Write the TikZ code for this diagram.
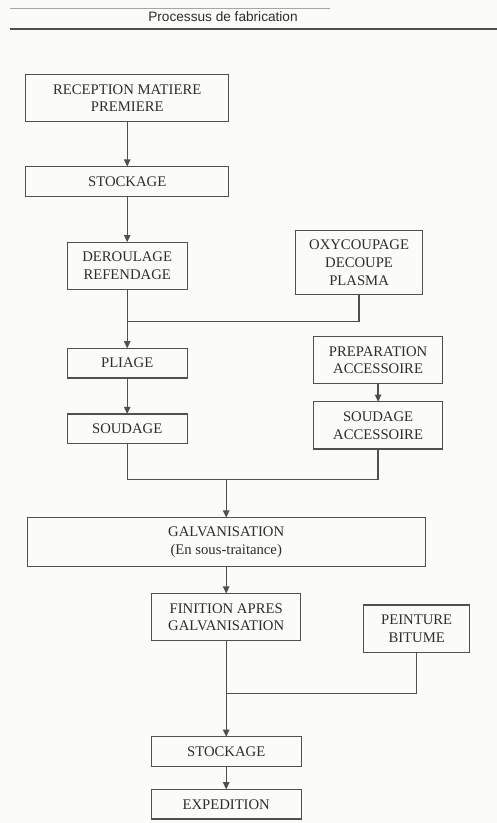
\documentclass[tikz,border=0pt]{standalone}
\usepackage{fontspec}
\setmainfont{Liberation Serif}
\newfontfamily\titrefont{Liberation Sans}
\usepackage{tikz}
\usetikzlibrary{positioning,arrows.meta}
\usepackage{xcolor}
\definecolor{fond}{RGB}{251,251,247}
\definecolor{trait}{RGB}{80,80,80}
\definecolor{texte}{RGB}{45,45,45}

\begin{document}
\begin{tikzpicture}[
node distance=1cm,
box/.style={draw=trait, line width=0.9pt, align=center, inner sep=2pt, outer sep=0pt, minimum height=0.74cm, text=texte, font=\fontsize{10.45pt}{12.6pt}\selectfont},
haut/.style={minimum height=1.18cm},
>={Triangle[length=1.8mm,width=1.6mm]}
]

\path[use as bounding box, fill=fond] (0,0) rectangle (12.425,-20.575);

%-------------------------
% En-tete
%-------------------------

\node (titre) at (5.575,-0.425) [text=texte, font=\titrefont\fontsize{9.7pt}{11pt}\selectfont] {Processus de fabrication};
\draw[gray!70, line width=0.5pt] (0.25,-0.2) -- (8.25,-0.2);
\draw[trait, line width=0.9pt] (0.25,-0.725) -- (12.425,-0.725);

%-------------------------
% Noeuds
%-------------------------

\node (reception) [box, haut, minimum width=5.075cm] at (3.18,-2.45) {RECEPTION MATIERE\\PREMIERE};
\node (stockA) [box, minimum width=5.075cm, below=1.125cm of reception] {STOCKAGE};

\node (deroulage) [box, haut, minimum width=3cm, below=1.15cm of stockA] {DEROULAGE\\REFENDAGE};
\node (oxy) [box, minimum width=3.175cm, minimum height=1.6cm, right=2.71cm of deroulage, yshift=0.075cm] {OXYCOUPAGE\\DECOUPE\\PLASMA};

\node (pliage) [box, minimum width=3cm, below=1.475cm of deroulage] {PLIAGE};
\node (soudage) [box, minimum width=3cm, below=0.9cm of pliage] {SOUDAGE};

\node (prep) [box, haut, minimum width=3.225cm, right=3.16cm of pliage, yshift=0.075cm] {PREPARATION\\ACCESSOIRE};
\node (soudacc) [box, haut, minimum width=3.225cm, below=0.45cm of prep] {SOUDAGE\\ACCESSOIRE};

\node (galva) [box, minimum width=9.95cm, minimum height=1.225cm, below=1.85cm of soudage, xshift=2.475cm] {GALVANISATION\\(En sous-traitance)};

\node (finition) [box, haut, minimum width=3.725cm, below=0.675cm of galva] {FINITION APRES\\GALVANISATION};
\node (peinture) [box, haut, minimum width=2.65cm, right=1.575cm of finition, yshift=-0.285cm] {PEINTURE\\BITUME};

\node (stockB) [box, minimum width=3.75cm, below=2.4cm of finition] {STOCKAGE};
\node (expedition) [box, minimum width=3.75cm, below=0.575cm of stockB] {EXPEDITION};

% points de jonction
\coordinate [below=0.8cm of deroulage] (j1);
\coordinate [above=0.95cm of galva] (j2);
\coordinate [above=1.075cm of stockB] (j3);

%-------------------------
% Fleches
%-------------------------

\begin{scope}[draw=trait, line width=0.9pt]
\draw[->] (reception) -- (stockA);
\draw[->] (stockA) -- (deroulage);

\draw[->] (deroulage) -- (pliage);
\draw (oxy) |- (j1);

\draw[->] (pliage) -- (soudage);
\draw[->] (prep) -- (soudacc);

\draw (soudage) |- (j2) -| (soudacc);
\draw[->] (j2) -- (galva);

\draw[->] (galva) -- (finition);

\draw[->] (finition) -- (stockB);
\draw (peinture) |- (j3);

\draw[->] (stockB) -- (expedition);
\end{scope}

\end{tikzpicture}
\end{document}
